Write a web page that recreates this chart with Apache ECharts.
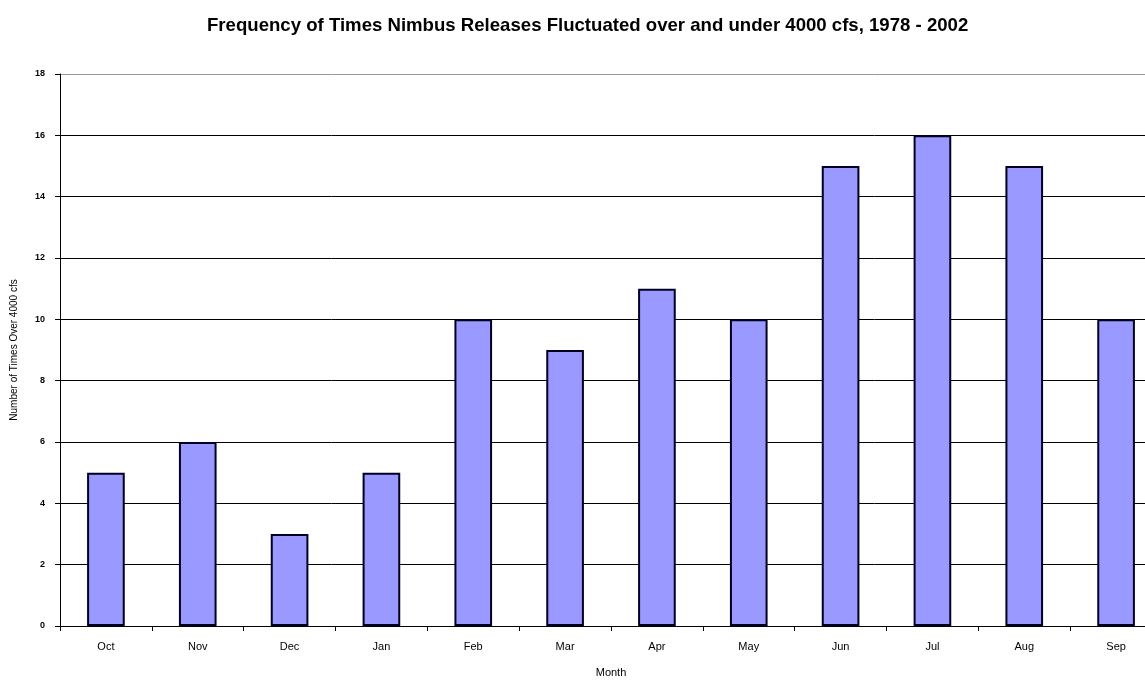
<!DOCTYPE html>
<html><head><meta charset="utf-8">
<script src="https://cdn.jsdelivr.net/npm/echarts@6/dist/echarts.min.js"></script>
<style>html,body{margin:0;padding:0;background:#fff}#c{width:1145px;height:681px}</style>
</head><body><div id="c"></div>
<script>
const months = ['Oct','Nov','Dec','Jan','Feb','Mar','Apr','May','Jun','Jul','Aug','Sep'];
const counts = [5, 6, 3, 5, 10, 9, 11, 10, 15, 16, 15, 10];
const yTicks = [0, 2, 4, 6, 8, 10, 12, 14, 16, 18];
const titleText = 'Frequency of Times Nimbus Releases Fluctuated over and under 4000 cfs, 1978 - 2002';
const yName = 'Number of Times Over 4000 cfs';
const xName = 'Month';

const chart = echarts.init(document.getElementById('c'));
chart.setOption({
  animation: false,
  backgroundColor: '#fff',
  title: {
    text: titleText, left: 202, top: 11,
    textStyle: { fontFamily: 'Arial, Liberation Sans', fontWeight: 'bold', fontSize: 18.6, color: '#000' }
  },
  grid: { left: 60, width: 1102, top: 74, height: 552, containLabel: false, outerBoundsMode: 'none' },
  xAxis: {
    type: 'category', data: months,
    name: xName, nameLocation: 'middle', nameGap: 41,
    nameTextStyle: { fontFamily: 'Arial', fontSize: 11, color: '#000' },
    axisLine: { lineStyle: { color: '#000', width: 1 } },
    axisTick: { show: true, alignWithLabel: false, length: 5, lineStyle: { color: '#000' } },
    axisLabel: { fontFamily: 'Arial', fontSize: 11, color: '#000', margin: 15 }
  },
  yAxis: {
    type: 'value', min: yTicks[0], max: yTicks[yTicks.length - 1], interval: 2,
    name: yName, nameLocation: 'middle', nameGap: 41, nameRotate: 90,
    nameTextStyle: { fontFamily: 'Arial', fontSize: 10, color: '#000' },
    axisLine: { show: true, lineStyle: { color: '#000', width: 1 } },
    axisTick: { show: true, length: 5, lineStyle: { color: '#000' } },
    axisLabel: { fontFamily: 'Arial', fontSize: 9, fontWeight: 'bold', color: '#000', margin: 15 },
    splitLine: { show: true, lineStyle: { color: ['#000','#000','#000','#000','#000','#000','#000','#000','#000','#999'], width: 1 } }
  },
  series: [{
    type: 'bar', data: counts, barWidth: '41%',
    itemStyle: { color: '#9999ff', borderColor: '#000022', borderWidth: 2 }
  }]
});
</script></body></html>
